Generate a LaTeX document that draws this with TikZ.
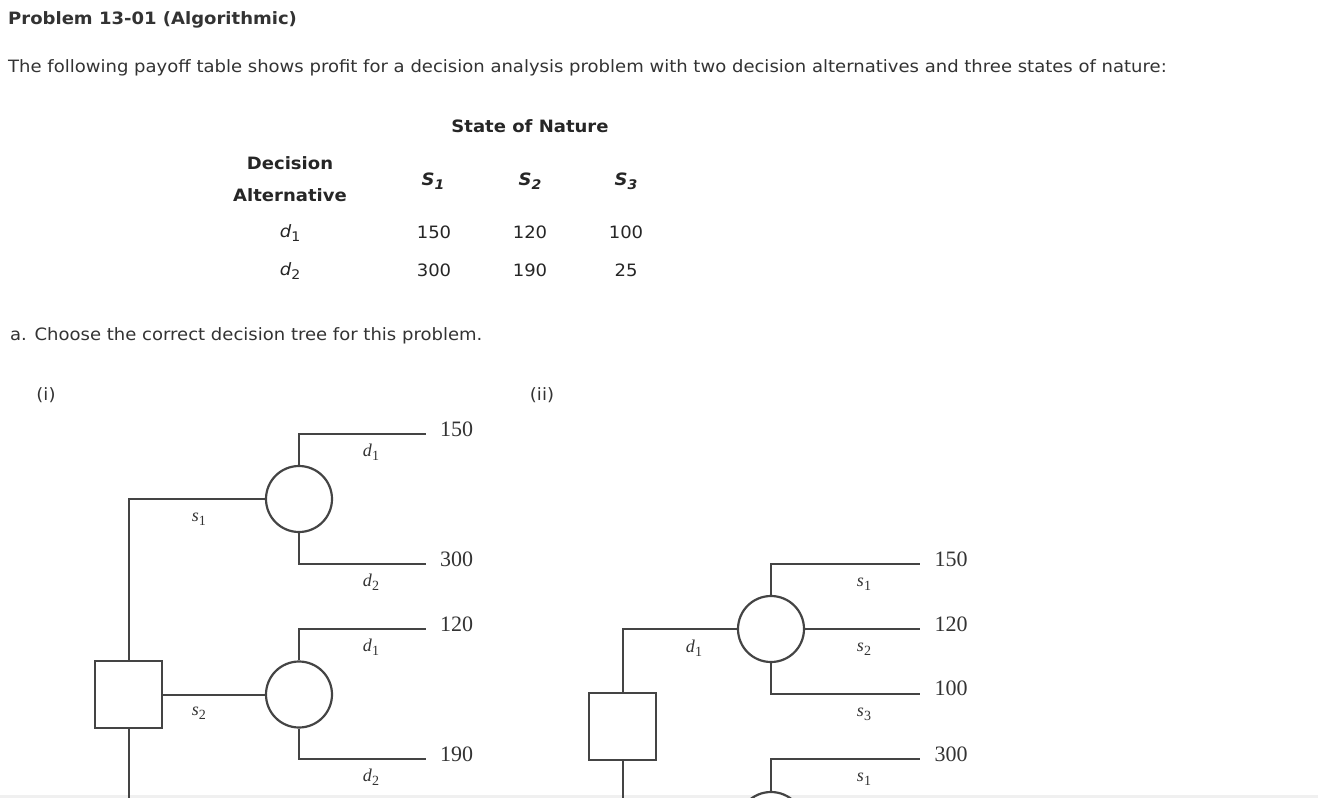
\documentclass[tikz,border=0pt]{standalone}
\usepackage{fontspec}
\setmainfont{Liberation Serif}
\newfontfamily\hdr[FakeStretch=1.06]{DejaVu Sans}
\definecolor{ink}{HTML}{333333}
\definecolor{ln}{HTML}{444444}
\definecolor{band}{HTML}{F0F0F0}
\newcommand{\lowsub}[1]{\raisebox{-0.22em}{\scalebox{0.78}{#1}}}
\begin{document}
\begin{tikzpicture}[x=1pt,y=-1pt,
  txt/.style={font=\hdr\fontsize{17}{20}\selectfont, text=ink, inner sep=0pt},
  ttl/.style={font=\hdr\bfseries\fontsize{17}{20}\selectfont, text=ink, inner sep=0pt},
  tbh/.style={font=\hdr\bfseries\fontsize{17}{20}\selectfont, text=black!85, inner sep=0pt},
  tbv/.style={font=\hdr\fontsize{17}{20}\selectfont, text=black!85, inner sep=0pt},
  val/.style={font=\fontsize{22}{24}\selectfont, text=ink, inner sep=0pt},
  lab/.style={font=\fontsize{18}{20}\selectfont, text=ink, inner sep=0pt},
  dsq/.style={draw=ln, line width=2.2pt, minimum size=67pt, inner sep=0pt, fill=white},
  chance/.style={circle, draw=ln, line width=2.2pt, minimum size=66pt, inner sep=0pt, fill=white},
  edge/.style={draw=ln, line width=2pt},
  leaf/.style={draw=ln, line width=2.8pt}]
\fill[white] (0,0) rectangle (1318,798);
\useasboundingbox (0,0) rectangle (1318,798);
\clip (0,0) rectangle (1318,798);
\fill[band] (0,795) rectangle (1318,798);

% header
\node[ttl, anchor=west] (title) at (8,20) {Problem 13-01 (Algorithmic)};
\node[txt, anchor=west] (intro) at (8,68) {The following payoff table shows profit for a decision analysis problem with two decision alternatives and three states of nature:};

% table
\node[tbh] (son) at (530,126) {State of Nature};
\node[tbh] (dec) at (290,163) {Decision};
\node[tbh] (alt) at (290,195) {Alternative};
\node[tbh] (hs1) at (433,181) {\itshape S\lowsub{1}};
\node[tbh] (hs2) at (530,181) {\itshape S\lowsub{2}};
\node[tbh] (hs3) at (626,181) {\itshape S\lowsub{3}};
\node[tbv] (rd1) at (290,233) {\itshape d\lowsub{\upshape 1}};
\node[tbv] (rd2) at (290,271) {\itshape d\lowsub{\upshape 2}};
\node[tbv] (v11) at (434,232) {150};
\node[tbv] (v12) at (530,232) {120};
\node[tbv] (v13) at (626,232) {100};
\node[tbv] (v21) at (434,270) {300};
\node[tbv] (v22) at (530,270) {190};
\node[tbv] (v23) at (626,270) {25};

\node[txt, anchor=west] (qa) at (10,336) {a. Choose the correct decision tree for this problem.};
\node[txt] (ti) at (46,395) {(i)};
\node[txt] (tii) at (542,395) {(ii)};

% tree (i)
\coordinate (t1) at (426,434);
\coordinate (t2) at (426,564);
\coordinate (t3) at (426,629);
\coordinate (t4) at (426,759);
\coordinate (b1) at (128.5,805);
\node[dsq] (q1) at (128.5,694.5) {};
\node[chance] (c1) at (299,499) {};
\node[chance] (c2) at (299,694.5) {};
\draw[edge] (q1.north) |- (c1.west);
\draw[edge] (q1.east) -- (c2.west);
\draw[edge] (q1.south) -- (b1);
\draw[leaf] (c1.north) |- (t1);
\draw[leaf] (c1.south) |- (t2);
\draw[leaf] (c2.north) |- (t3);
\draw[leaf] (c2.south) |- (t4);
\node[val] (w1) at (456.5,429) {150};
\node[val] (w2) at (456.5,559) {300};
\node[val] (w3) at (456.5,624) {120};
\node[val] (w4) at (456.5,754) {190};
\node[lab] (ld1) at (371,452) {\textit{d}\lowsub{1}};
\node[lab] (ld2) at (371,582) {\textit{d}\lowsub{2}};
\node[lab] (ld3) at (371,647) {\textit{d}\lowsub{1}};
\node[lab] (ld4) at (371,777) {\textit{d}\lowsub{2}};
\node[lab] (ls1) at (199,519) {\textit{s}\lowsub{1}};
\node[lab] (ls2) at (199,713) {\textit{s}\lowsub{2}};

% tree (ii)
\coordinate (u1) at (920,564);
\coordinate (u2) at (920,629);
\coordinate (u3) at (920,694);
\coordinate (u4) at (920,759);
\coordinate (b2) at (622.5,805);
\node[dsq] (q2) at (622.5,726.5) {};
\node[chance] (c3) at (771,629) {};
\node[chance] (c4) at (771,825) {};
\draw[edge] (q2.north) |- (c3.west);
\draw[edge] (q2.south) -- (b2);
\draw[leaf] (c3.north) |- (u1);
\draw[leaf] (c3.east) -- (u2);
\draw[leaf] (c3.south) |- (u3);
\draw[leaf] (c4.north) |- (u4);
\node[val] (x1) at (951,559) {150};
\node[val] (x2) at (951,624) {120};
\node[val] (x3) at (951,688) {100};
\node[val] (x4) at (951,754) {300};
\node[lab] (m1) at (864,584) {\textit{s}\lowsub{1}};
\node[lab] (m2) at (864,649) {\textit{s}\lowsub{2}};
\node[lab] (m3) at (864,714) {\textit{s}\lowsub{3}};
\node[lab] (m4) at (864,779) {\textit{s}\lowsub{1}};
\node[lab] (md1) at (694,648) {\textit{d}\lowsub{1}};
\end{tikzpicture}
\end{document}
